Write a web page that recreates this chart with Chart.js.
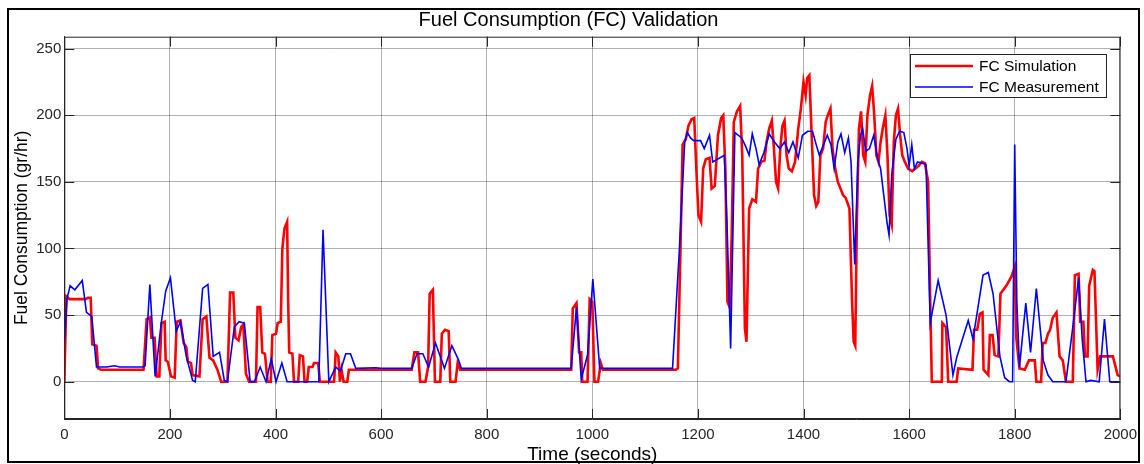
<!DOCTYPE html>
<html>
<head>
<meta charset="utf-8">
<script src="https://cdn.jsdelivr.net/npm/chart.js@4.4.1/dist/chart.umd.min.js"></script>
<style>
  html, body { margin: 0; padding: 0; background: #fff; }
  canvas { display: block; }
</style>
</head>
<body>
<canvas id="fc" width="1144" height="464"></canvas>
<script>
const xTicks = [0, 200, 400, 600, 800, 1000, 1200, 1400, 1600, 1800, 2000];
const yTicks = [0, 50, 100, 150, 200, 250];

// FC Simulation (red)
const simTime = [
  0, 4, 10, 40, 45, 50, 53, 61, 64, 70, 150, 156, 162, 165, 171, 175, 180, 184, 190, 192,
  196, 202, 209, 213, 220, 226, 231, 234, 240, 243, 256, 262, 269, 275, 282, 290, 297, 309, 314, 320,
  324, 330, 335, 339, 344, 350, 363, 366, 371, 375, 380, 385, 391, 394, 401, 404, 410, 413, 417, 422,
  424, 426, 432, 435, 443, 446, 452, 455, 460, 463, 470, 473, 481, 484, 511, 514, 519, 522, 525, 529,
  536, 539, 658, 663, 670, 674, 684, 689, 692, 698, 702, 712, 715, 721, 728, 731, 741, 745, 750, 960,
  963, 970, 975, 979, 981, 991, 995, 1000, 1004, 1011, 1016, 1020, 1158, 1162, 1167, 1171, 1177, 1182, 1188, 1193,
  1197, 1201, 1206, 1210, 1215, 1222, 1226, 1232, 1238, 1244, 1248, 1252, 1256, 1260, 1264, 1268, 1274, 1280, 1284, 1289,
  1292, 1297, 1303, 1310, 1314, 1320, 1326, 1330, 1335, 1340, 1344, 1348, 1352, 1356, 1360, 1364, 1368, 1372, 1378, 1384,
  1390, 1395, 1400, 1404, 1407, 1411, 1415, 1420, 1424, 1428, 1432, 1437, 1442, 1446, 1451, 1455, 1460, 1465, 1470, 1475,
  1480, 1487, 1492, 1495, 1498, 1501, 1505, 1509, 1513, 1517, 1521, 1526, 1530, 1534, 1538, 1542, 1546, 1550, 1555, 1559,
  1563, 1567, 1571, 1575, 1579, 1583, 1587, 1592, 1598, 1606, 1612, 1618, 1624, 1630, 1636, 1640, 1643, 1662, 1663, 1670,
  1674, 1690, 1693, 1720, 1723, 1729, 1734, 1739, 1741, 1750, 1753, 1758, 1762, 1769, 1773, 1784, 1794, 1800, 1803, 1809,
  1819, 1827, 1838, 1841, 1850, 1853, 1858, 1863, 1867, 1872, 1879, 1885, 1891, 1897, 1910, 1914, 1921, 1924, 1930, 1933,
  1938, 1941, 1948, 1951, 1957, 1962, 1986, 1995, 2000
];
const simFC = [
  0, 64, 62, 62, 63, 63, 28, 27, 10, 9, 9, 47, 48, 33, 33, 4, 4, 44, 45, 16,
  15, 4, 3, 45, 46, 29, 26, 15, 14, 5, 4, 47, 49, 18, 16, 9, 0, 0, 67, 67,
  33, 31, 41, 43, 6, 0, 0, 56, 56, 22, 21, 0, 0, 35, 36, 44, 45, 100, 115, 120,
  60, 22, 21, 0, 0, 20, 19, 0, 0, 11, 11, 14, 14, 0, 0, 22, 19, 0, 9, 0,
  0, 9, 9, 22, 22, 0, 0, 11, 66, 69, 0, 0, 36, 39, 38, 0, 0, 14, 9, 9,
  55, 59, 22, 22, 0, 0, 62, 60, 0, 0, 14, 9, 9, 10, 100, 178, 182, 192, 197, 198,
  160, 125, 120, 160, 167, 168, 145, 147, 185, 198, 200, 160, 60, 56, 110, 195, 203, 207, 170, 40,
  30, 130, 137, 135, 160, 165, 166, 180, 190, 196, 175, 150, 145, 175, 192, 196, 170, 160, 158, 165,
  190, 205, 225, 215, 228, 230, 190, 140, 132, 135, 170, 175, 195, 200, 205, 175, 160, 150, 145, 140,
  138, 130, 60, 30, 27, 120, 190, 203, 170, 165, 200, 215, 222, 200, 170, 165, 180, 190, 200, 170,
  125, 118, 180, 200, 205, 185, 170, 165, 160, 158, 160, 162, 165, 164, 150, 60, 0, 0, 44, 41,
  0, 0, 10, 9, 39, 39, 51, 52, 9, 5, 35, 35, 20, 19, 66, 72, 79, 86, 33, 10,
  9, 16, 16, 0, 0, 29, 29, 36, 39, 48, 52, 19, 16, 0, 0, 80, 81, 45, 45, 19,
  19, 72, 84, 83, 9, 19, 19, 5, 4
];

// FC Measurement (blue)
const measTime = [
  0, 5, 11, 20, 34, 42, 52, 61, 80, 95, 105, 149, 153, 162, 172, 184, 192, 201, 212, 220,
  231, 243, 248, 262, 272, 282, 294, 303, 309, 322, 331, 341, 352, 360, 371, 382, 392, 401, 412, 422,
  482, 490, 501, 514, 523, 533, 542, 552, 590, 600, 658, 668, 679, 690, 703, 720, 734, 746, 752, 960,
  970, 979, 991, 1001, 1014, 1152, 1165, 1175, 1180, 1186, 1192, 1205, 1212, 1218, 1222, 1228, 1250, 1255, 1262, 1270,
  1283, 1290, 1297, 1303, 1310, 1316, 1325, 1335, 1345, 1355, 1364, 1372, 1380, 1390, 1398, 1408, 1417, 1424, 1430, 1438,
  1445, 1452, 1458, 1465, 1471, 1478, 1485, 1490, 1497, 1503, 1508, 1512, 1518, 1525, 1533, 1540, 1546, 1552, 1558, 1562,
  1567, 1575, 1582, 1590, 1596, 1600, 1605, 1610, 1616, 1625, 1632, 1640, 1655, 1670, 1683, 1690, 1712, 1721, 1740, 1750,
  1759, 1772, 1781, 1790, 1796, 1800, 1804, 1809, 1821, 1830, 1841, 1854, 1863, 1872, 1897, 1910, 1921, 1928, 1935, 1944,
  1960, 1970, 1980, 2000
];
const measFC = [
  30, 62, 72, 69, 76, 52, 49, 11, 11, 12, 11, 11, 12, 73, 4, 45, 68, 78, 38, 45,
  19, 1, 0, 70, 73, 19, 22, 1, 0, 41, 45, 44, 0, 0, 11, 0, 17, 0, 14, 0,
  0, 114, 0, 11, 8, 21, 21, 10, 10.5, 10, 10, 21, 21, 11, 29, 10, 27, 17, 10, 10,
  56, 2, 20, 77, 10, 10, 100, 180, 187, 183, 181, 181, 175, 181, 185, 165, 170, 120, 25, 187,
  183, 177, 170, 186, 175, 163, 172, 186, 180, 175, 180, 172, 180, 168, 185, 188, 188, 178, 170, 178,
  185, 178, 160, 180, 186, 172, 183, 165, 88, 165, 185, 190, 173, 175, 185, 168, 160, 140, 120, 110,
  155, 182, 188, 187, 175, 162, 178, 160, 165, 164, 163, 44, 76, 50, 5, 18, 46, 32, 80, 82,
  66, 19, 3, 0, 0, 178, 60, 11, 59, 22, 70, 16, 5, 0, 0, 41, 78, 31, 0, 1,
  0, 47, 0, 0
];

const FONT = "'Liberation Sans', Arial, Helvetica, sans-serif";
const AX = "#262626";
const GRID = "rgba(0,0,0,0.3)";

function el(id) {
  return document.getElementById(id);
}

function pts(xs, ys) {
  return xs.map((x, i) => ({ x, y: ys[i] }));
}

// white background, MATLAB-style box with inward ticks, legend, outer frame
const matlabLook = {
  id: "matlabLook",
  beforeDraw(chart) {
    const c = chart.ctx;
    c.save();
    c.fillStyle = "#fff";
    c.fillRect(0, 0, chart.width, chart.height);
    c.restore();
  },
  afterDatasetsDraw(chart) {
    const c = chart.ctx;
    const a = chart.chartArea;
    const sx = chart.scales.x;
    const sy = chart.scales.y;
    c.save();
    c.strokeStyle = AX;
    c.lineWidth = 1;
    c.strokeRect(a.left + 0.5, a.top + 0.5, a.right - a.left - 1, a.bottom - a.top - 1);
    c.beginPath();
    for (const v of xTicks) {
      const px = Math.round(sx.getPixelForValue(v)) + 0.5;
      c.moveTo(px, a.top); c.lineTo(px, a.top + 10);
      c.moveTo(px, a.bottom); c.lineTo(px, a.bottom - 10);
    }
    for (const v of yTicks) {
      const py = Math.round(sy.getPixelForValue(v)) + 0.5;
      c.moveTo(a.left, py); c.lineTo(a.left + 10, py);
      c.moveTo(a.right, py); c.lineTo(a.right - 10, py);
    }
    c.stroke();

    // legend
    const lx = 910, ly = 54, lw = 196, lh = 43;
    c.fillStyle = "#fff";
    c.fillRect(lx, ly, lw, lh);
    c.strokeRect(lx + 0.5, ly + 0.5, lw, lh);
    const items = [
      { text: "FC Simulation", color: "#ff0000", width: 2.6, y: 66 },
      { text: "FC Measurement", color: "#0000ff", width: 1.6, y: 87 },
    ];
    c.font = `15.5px ${FONT}`;
    c.textBaseline = "middle";
    for (const it of items) {
      c.strokeStyle = it.color;
      c.lineWidth = it.width;
      c.beginPath();
      c.moveTo(915, it.y);
      c.lineTo(973, it.y);
      c.stroke();
      c.fillStyle = "#000";
      c.fillText(it.text, 979, it.y + 1);
    }
    c.restore();
  },
  afterDraw(chart) {
    const c = chart.ctx;
    c.save();
    c.strokeStyle = "#000";
    c.lineWidth = 2;
    c.strokeRect(8, 9, 1131, 453);
    c.restore();
  },
};

new Chart(el("fc"), {
  type: "line",
  data: {
    datasets: [
      {
        label: "FC Measurement",
        data: pts(measTime, measFC),
        borderColor: "#0000ff",
        borderWidth: 1.6,
        pointRadius: 0,
        tension: 0,
        order: 0,
      },
      {
        label: "FC Simulation",
        data: pts(simTime, simFC),
        borderColor: "#ff0000",
        borderWidth: 2.6,
        pointRadius: 0,
        tension: 0,
        order: 1,
      },
    ],
  },
  options: {
    responsive: false,
    animation: false,
    events: [],
    layout: { padding: { left: 13, right: 20, top: 0, bottom: 0 } },
    plugins: {
      legend: { display: false },
      tooltip: { enabled: false },
      title: {
        display: true,
        text: "Fuel Consumption (FC) Validation",
        color: "#000",
        font: { family: FONT, size: 20, weight: "normal" },
        padding: { top: 8, bottom: 4.7 },
      },
    },
    scales: {
      x: {
        type: "linear",
        min: 0,
        max: 2000,
        afterBuildTicks: (s) => { s.ticks = xTicks.map((v) => ({ value: v })); },
        afterFit: (s) => { s.height = 45; },
        grid: { color: GRID, drawTicks: false },
        border: { color: AX },
        ticks: {
          color: AX,
          font: { family: FONT, size: 15 },
          padding: 7,
          maxRotation: 0,
          autoSkip: false,
          callback: (v) => String(v),
        },
        title: {
          display: true,
          text: "Time (seconds)",
          color: "#000",
          font: { family: FONT, size: 19, lineHeight: 1 },
          padding: 0,
        },
      },
      y: {
        min: -28,
        max: 259,
        afterBuildTicks: (s) => { s.ticks = yTicks.map((v) => ({ value: v })); },
        afterFit: (s) => { s.width = 51.3; },
        grid: { color: GRID, drawTicks: false },
        border: { color: AX },
        ticks: {
          color: AX,
          font: { family: FONT, size: 15 },
          padding: 3,
          autoSkip: false,
          callback: (v) => String(v),
        },
        title: {
          display: true,
          text: "Fuel Consumption (gr/hr)",
          color: "#000",
          font: { family: FONT, size: 17.5, lineHeight: 1 },
          padding: 0,
        },
      },
    },
  },
  plugins: [matlabLook],
});
</script>
</body>
</html>
